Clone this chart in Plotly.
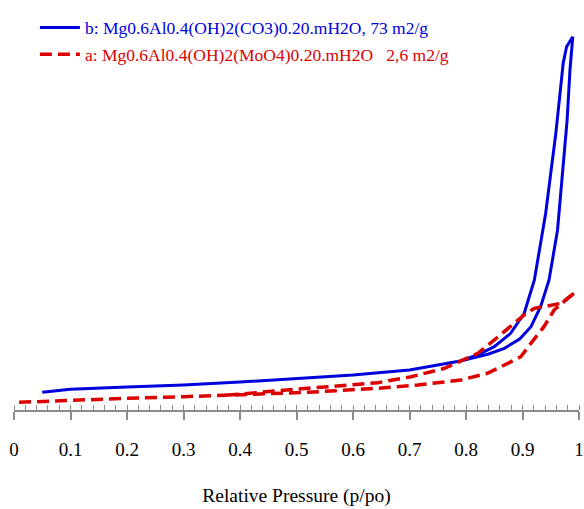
import plotly.graph_objects as go

# Relative pressure (p/po) and adsorbed amount (arbitrary units, no y-axis shown)
b_ads_x = [0.05, 0.1, 0.2, 0.3, 0.4, 0.5, 0.6, 0.7, 0.79, 0.84, 0.868, 0.895, 0.915, 0.932, 0.947, 0.962, 0.969, 0.979, 0.984, 0.989]
b_ads_y = [17.7, 20.7, 23, 25, 28, 31.5, 35, 40, 49, 56, 61.7, 71, 83.3, 103.3, 130, 180, 223.3, 290, 340, 373.3]
b_des_x = [0.989, 0.978, 0.972, 0.965, 0.959, 0.950, 0.941, 0.926, 0.921, 0.903, 0.879, 0.850, 0.82, 0.79]
b_des_y = [373.3, 363.3, 346.7, 310, 276.7, 236.7, 196.7, 146.7, 130, 96.7, 76.7, 63.3, 55, 49]

a_ads_x = [0.009, 0.1, 0.2, 0.3, 0.4, 0.52, 0.644, 0.715, 0.791, 0.838, 0.868, 0.897, 0.915, 0.938, 0.956, 0.973, 0.991]
a_ads_y = [7.7, 10, 11.7, 13.3, 15, 17.7, 21.7, 25, 30, 36.7, 45, 53.3, 66.7, 83.3, 100, 108.3, 116.7]
a_des_x = [0.991, 0.968, 0.944, 0.921, 0.903, 0.879, 0.850, 0.821, 0.791, 0.762, 0.703, 0.644, 0.52, 0.4, 0.38]
a_des_y = [116.7, 106.7, 104, 101.7, 95, 83.3, 70, 56.7, 49, 41.7, 33.3, 27.3, 21.7, 16, 15]

b_label = "b: Mg0.6Al0.4(OH)2(CO3)0.20.mH2O, 73 m2/g"
a_label = "a: Mg0.6Al0.4(OH)2(MoO4)0.20.mH2O&nbsp;&nbsp;&nbsp;2,6 m2/g"
x_ticks = [0, 0.1, 0.2, 0.3, 0.4, 0.5, 0.6, 0.7, 0.8, 0.9, 1]
x_ticktext = ["0", "0.1", "0.2", "0.3", "0.4", "0.5", "0.6", "0.7", "0.8", "0.9", "1"]

BLUE = "#0000dc"
RED = "#dc0000"
FONT = "Liberation Serif"

fig = go.Figure()
fig.add_trace(go.Scatter(x=b_ads_x, y=b_ads_y, mode="lines", line=dict(color=BLUE, width=3),
                         name='<span style="color:%s">%s</span>' % (BLUE, b_label),
                         legendgroup="b"))
fig.add_trace(go.Scatter(x=b_des_x, y=b_des_y, mode="lines", line=dict(color=BLUE, width=3),
                         showlegend=False, legendgroup="b"))
fig.add_trace(go.Scatter(x=a_ads_x, y=a_ads_y, mode="lines", line=dict(color=RED, width=3.5, dash="12px,6px"),
                         name='<span style="color:%s">%s</span>' % (RED, a_label),
                         legendgroup="a"))
fig.add_trace(go.Scatter(x=a_des_x, y=a_des_y, mode="lines", line=dict(color=RED, width=3.5, dash="12px,6px"),
                         showlegend=False, legendgroup="a"))

axis_gray = "#8c8c8c"
fig.update_layout(
    width=584, height=509,
    margin=dict(l=14, r=5, t=10, b=99, autoexpand=False),
    paper_bgcolor="white", plot_bgcolor="white",
    font=dict(family=FONT, size=18, color="black"),
    showlegend=True,
    legend=dict(x=0.037, y=1.001, xanchor="left", yanchor="top", bgcolor="rgba(0,0,0,0)",
                font=dict(family=FONT, size=17.5), tracegroupgap=1, itemwidth=40),
    xaxis=dict(range=[0, 1], tickvals=x_ticks, ticktext=x_ticktext, ticks="outside", ticklen=8,
               tickwidth=1.5, tickcolor=axis_gray, showline=True, linecolor=axis_gray, linewidth=1.5,
               showgrid=False, zeroline=False, ticklabelstandoff=13, ticklabeloverflow="allow",
               tickfont=dict(family=FONT, size=19),
               minor=dict(ticks="inside", ticklen=5, dtick=0.02, tickcolor=axis_gray, tickwidth=1.2, showgrid=False),
               title=dict(text="Relative Pressure (p/po)", font=dict(family=FONT, size=19.5), standoff=30),
               automargin=False),
    xaxis2=dict(overlaying="x", matches="x", anchor="y", side="bottom", tickvals=x_ticks,
                ticks="inside", ticklen=7, tickwidth=1.5, tickcolor=axis_gray, showticklabels=False,
                showline=False, showgrid=False, zeroline=False, automargin=False),
    yaxis=dict(range=[0, 400], visible=False, fixedrange=True, automargin=False),
)

fig.write_html("out.html", config={"displayModeBar": False},
               post_script="document.body.style.margin='0';document.body.style.overflow='hidden';")
